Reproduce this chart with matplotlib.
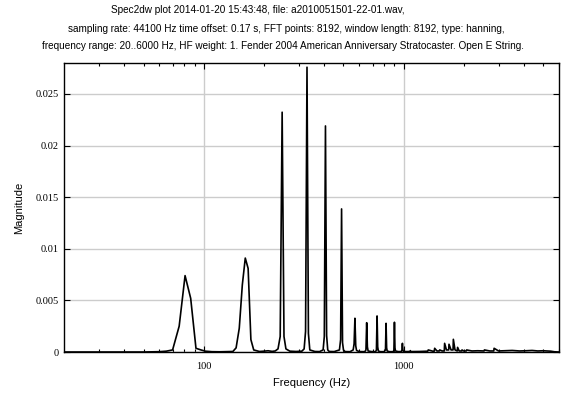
"""Spectrum of an open E string (Spec2dw style plot)."""

import matplotlib
matplotlib.use('Agg')
import matplotlib.pyplot as plt
from matplotlib.ticker import FixedLocator, NullFormatter

TITLE_LINES = [
    'Spec2dw plot 2014-01-20 15:43:48, file: a2010051501-22-01.wav,',
    'sampling rate: 44100 Hz time offset: 0.17 s, FFT points: 8192, window length: 8192, type: hanning,',
    'frequency range: 20..6000 Hz, HF weight: 1. Fender 2004 American Anniversary Stratocaster. Open E String.',
]

# spectrum points: (Hz, magnitude)
spectrum = [
    (20, 0.0), (30, 0.0), (40, 0.0), (50, 0.0), (60, 0.00003), (65, 0.00008),
    (69.9, 0.0002), (75.4, 0.0025), (80.7, 0.0074), (86.1, 0.0052),
    (91.5, 0.00036), (96.9, 0.0002), (102, 0.00008), (110, 0.00003),
    (120, 0.00002), (130, 0.00003), (140, 0.00005),
    (145.3, 0.0004), (150.7, 0.0023), (156.1, 0.0065), (161.5, 0.0091),
    (166.9, 0.0081), (172.3, 0.0012), (178, 0.0002), (190, 0.00005),
    (200, 0.00008), (210, 0.00012), (220, 0.00006), (228, 0.0001),
    (235.5, 0.0003), (241.5, 0.0015), (247, 0.02323), (252.3, 0.0015),
    (258, 0.0003), (270, 0.00008), (290, 0.00005), (310, 0.00008),
    (318.2, 0.0003), (323.5, 0.002), (328.9, 0.02759), (334.3, 0.0018),
    (339.7, 0.0002), (360, 0.00005), (380, 0.00004),
    (396, 0.0002), (401.5, 0.0015), (406.9, 0.0219), (412.3, 0.0016),
    (417.7, 0.0002), (425, 0.00005), (450, 0.00004),
    (478, 0.0002), (484.5, 0.0012), (489.9, 0.01386), (495.3, 0.0009),
    (500.7, 0.0002), (510, 0.00004), (540, 0.00003),
    (560, 0.0002), (565.9, 0.0008), (571.3, 0.00327), (576.7, 0.0006),
    (582.1, 0.00015), (600, 0.00004), (640, 0.00003),
    (648.8, 0.0002), (654.2, 0.00284), (659.6, 0.0005), (665, 0.0001),
    (690, 0.00004), (725, 0.00003),
    (732, 0.0002), (737.4, 0.00349), (742.8, 0.0005), (748.2, 0.0001),
    (765, 0.00003), (800, 0.00003),
    (812.5, 0.0002), (817.9, 0.00278), (823.3, 0.0004), (828.7, 0.0001),
    (850, 0.00003), (890, 0.00003),
    (895.5, 0.0002), (900.9, 0.00288), (906.3, 0.0004), (911.7, 0.0001),
    (940, 0.00004), (975, 0.00004),
    (982, 0.0002), (987.5, 0.00084), (993, 0.0002), (1000, 0.00005),
    (1040, 0.00004), (1076, 0.00005), (1082, 0.00013), (1088, 0.00004),
    (1150, 0.00004), (1200, 0.00005), (1260, 0.00006), (1322, 0.00008),
    (1330, 0.0002), (1400, 0.00008), (1425, 0.00008), (1432, 0.00036),
    (1470, 0.0001), (1510, 0.0001), (1518, 0.0002), (1560, 0.0001),
    (1600, 0.0001), (1606, 0.00084), (1640, 0.0002), (1683, 0.0002),
    (1689, 0.00075), (1730, 0.0002), (1770, 0.0002), (1776, 0.00123),
    (1810, 0.0002), (1858, 0.0001), (1865, 0.00045), (1900, 0.0001),
    (1955, 0.0001), (1962, 0.0002), (2000, 0.0001), (2060, 0.0001),
    (2070, 0.0002), (2200, 0.0001), (2350, 0.00012), (2530, 0.0001),
    (2540, 0.0002), (2700, 0.0001), (2830, 0.0001), (2840, 0.00036),
    (2990, 0.0001), (3200, 0.00012), (3500, 0.00015), (3800, 0.0001),
    (4100, 0.00012), (4400, 0.00015), (4700, 0.0001), (5000, 0.00012),
    (5300, 0.0001), (5450, 0.00008), (5700, 0.00002), (6000, 0.0),
]
freq = [p[0] for p in spectrum]
magnitude = [p[1] for p in spectrum]

y_ticks = [0, 0.005, 0.01, 0.015, 0.02, 0.025]
y_labels = ['0', '0.005', '0.01', '0.015', '0.02', '0.025']
x_ticks = [100, 1000]
x_minor = [30, 40, 50, 60, 70, 80, 90, 200, 300, 400, 500, 600, 700, 800,
           900, 2000, 3000, 4000, 5000, 6000]

plt.rcParams['font.family'] = 'Liberation Sans'

fig = plt.figure(figsize=(5.74, 3.97), dpi=100)
ax = fig.add_axes([64 / 574, 1 - 352 / 397, 495 / 574, 289 / 397])

ax.plot(freq, magnitude, color='black', linewidth=1.2, zorder=3)

ax.set_xscale('log')
ax.set_xlim(20, 6000)
ax.set_ylim(0, 0.028)

ax.xaxis.set_major_locator(FixedLocator(x_ticks))
ax.xaxis.set_minor_locator(FixedLocator(x_minor))
ax.xaxis.set_minor_formatter(NullFormatter())
ax.set_xticklabels(['100', '1000'])
ax.set_yticks(y_ticks)
ax.set_yticklabels(y_labels)

for lab in ax.get_xticklabels() + ax.get_yticklabels():
    lab.set_fontfamily('Liberation Serif')
    lab.set_fontsize(7.5)

ax.tick_params(which='both', direction='in', top=True, right=True, width=0.8)
ax.tick_params(axis='y', which='major', length=4, pad=4)
ax.tick_params(axis='x', which='major', length=4, pad=7)
ax.tick_params(which='minor', length=2.5)
ax.grid(True, which='major', color='#cccccc', linewidth=1.0, zorder=0)
for sp in ax.spines.values():
    sp.set_linewidth(1.0)

ax.set_xlabel('Frequency (Hz)', fontsize=8, labelpad=5)
ax.set_ylabel('Magnitude', fontsize=8, labelpad=8)

fig.text(258 / 574, 1 - 10 / 397, TITLE_LINES[0], ha='center', va='center', fontsize=7.2)
fig.text(286 / 574, 1 - 29 / 397, TITLE_LINES[1], ha='center', va='center', fontsize=7.2)
fig.text(283 / 574, 1 - 46 / 397, TITLE_LINES[2], ha='center', va='center', fontsize=7.2)

fig.savefig('out.png', dpi=100)
